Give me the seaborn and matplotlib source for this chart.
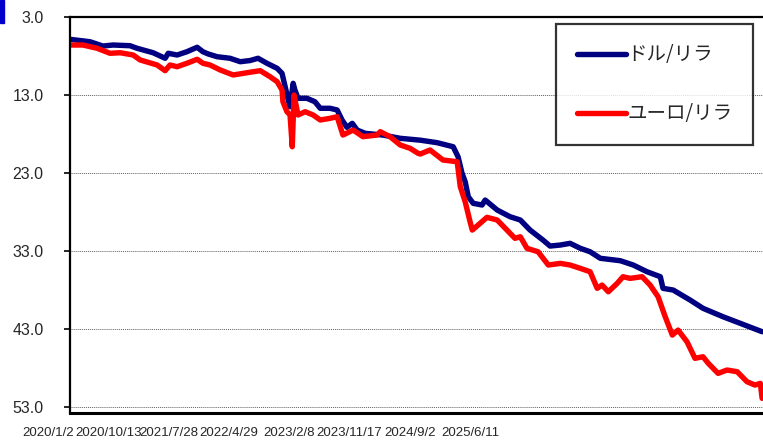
import numpy as np
import matplotlib
matplotlib.use("Agg")
import matplotlib.pyplot as plt
import seaborn as sns
from matplotlib import font_manager
from matplotlib.patches import Rectangle

sns.set_theme(style="white")
plt.rcParams['font.family'] = ['Noto Sans CJK JP', 'DejaVu Sans']

installed = {f.name for f in font_manager.fontManager.ttflist}
narrow = 'Liberation Sans Narrow' if 'Liberation Sans Narrow' in installed else 'Liberation Sans'
num_size = 11.5 if narrow == 'Liberation Sans Narrow' else 9.5

# trading-day index and rate (lira per unit)
usd_day = [0, 45, 74, 97, 135, 151, 187, 214, 221, 241, 263, 286, 299, 311, 331, 360, 383,
           405, 423, 443, 466, 477, 484, 491, 495, 502, 506, 513, 533, 551, 563, 585, 601,
           612, 623, 635, 646, 664, 704, 743, 788, 826, 862, 873, 882, 889, 896, 907, 927,
           934, 961, 990, 1013, 1035, 1064, 1080, 1103, 1125, 1148, 1170, 1193, 1238, 1267,
           1298, 1328, 1334, 1357, 1395, 1424, 1469, 1508, 1557]
usd_rate = [5.90, 6.21, 6.76, 6.63, 6.72, 7.05, 7.62, 8.33, 7.69, 7.91, 7.49, 6.92, 7.49, 7.78,
            8.13, 8.33, 8.77, 8.62, 8.33, 8.97, 9.62, 10.26, 11.97, 13.68, 14.54, 11.54, 12.40,
            13.46, 13.46, 13.90, 14.74, 14.74, 14.96, 16.24, 17.18, 16.67, 17.53, 17.95, 18.17,
            18.59, 18.83, 19.15, 19.67, 20.95, 23.08, 24.15, 26.08, 26.92, 27.14, 26.50, 27.78,
            28.64, 29.06, 30.35, 31.63, 32.40, 32.27, 32.05, 32.69, 33.13, 33.97, 34.28, 34.83,
            35.69, 36.33, 37.82, 38.04, 39.32, 40.38, 41.46, 42.31, 43.38]

eur_day = [0, 29, 61, 90, 113, 142, 158, 196, 214, 225, 241, 263, 286, 299, 315, 338, 367,
           405, 428, 450, 466, 477, 479, 488, 495, 500, 504, 513, 529, 547, 563, 585, 601,
           614, 637, 659, 691, 698, 720, 743, 765, 783, 788, 810, 839, 871, 878, 889, 900,
           905, 918, 938, 961, 983, 1001, 1013, 1028, 1053, 1076, 1103, 1125, 1148, 1170,
           1186, 1197, 1211, 1231, 1244, 1260, 1287, 1305, 1323, 1339, 1355, 1368, 1388,
           1406, 1424, 1436, 1458, 1478, 1501, 1523, 1541, 1553, 1557]
eur_rate = [6.63, 6.63, 7.05, 7.69, 7.62, 7.91, 8.55, 9.19, 9.92, 9.19, 9.41, 8.97, 8.46, 8.97,
            9.19, 9.83, 10.47, 10.12, 9.92, 10.69, 11.33, 12.40, 13.90, 15.18, 15.60, 19.67,
            13.04, 15.60, 15.18, 15.60, 16.24, 16.03, 15.82, 18.17, 17.53, 18.38, 18.17, 17.74,
            18.38, 19.45, 19.87, 20.51, 20.60, 20.09, 21.37, 21.59, 24.79, 26.72, 29.28, 30.35,
            29.71, 28.72, 29.06, 30.35, 31.41, 31.21, 32.69, 33.13, 34.83, 34.62, 34.83, 35.26,
            35.69, 37.82, 37.40, 38.26, 37.18, 36.33, 36.54, 36.33, 37.40, 38.90, 41.46, 43.81,
            43.17, 44.67, 46.79, 46.59, 47.44, 48.72, 48.29, 48.51, 49.79, 50.22, 50.00, 51.92]

date_labels = ["2020/1/2", "2020/10/13", "2021/7/28", "2022/4/29",
               "2023/2/8", "2023/11/17", "2024/9/2", "2025/6/11"]
y_ticks = [3.0, 13.0, 23.0, 33.0, 43.0, 53.0]

W, H = 763, 445
fig = plt.figure(figsize=(W / 100, H / 100), dpi=100)
ax_l, ax_r, ax_t, ax_b = 70, 763, 16.7, 413
ax = fig.add_axes([ax_l / W, 1 - ax_b / H, (ax_r - ax_l) / W, (ax_b - ax_t) / H])

sns.lineplot(x=usd_day, y=usd_rate, ax=ax, color="#000080", linewidth=3.9,
             label="ドル/リラ", solid_capstyle="round", solid_joinstyle="round")
sns.lineplot(x=eur_day, y=eur_rate, ax=ax, color="#ff0000", linewidth=3.9,
             label="ユーロ/リラ", solid_capstyle="round", solid_joinstyle="round")

ax.set_xlim(0, 1559)
ax.set_ylim(53.8, 3.0)
ax.set_yticks(y_ticks)
ax.set_yticklabels([f"{v:.1f}" for v in y_ticks], fontsize=11.5,
                   family=[narrow, 'DejaVu Sans'])
ax.set_xticks([])
ax.set_xlabel("")
ax.set_ylabel("")
ax.grid(False)
for v in y_ticks:
    ax.axhline(v, color="#606060", linewidth=0.7, linestyle=(0, (1, 1)), zorder=0)

ax.tick_params(axis="y", left=True, length=4, width=1.2, color="black", pad=15)
for side in ["left", "top", "bottom"]:
    ax.spines[side].set_color("black")
ax.spines["left"].set_linewidth(1.6)
ax.spines["top"].set_linewidth(1.6)
ax.spines["bottom"].set_linewidth(2.2)
ax.spines["right"].set_visible(False)

# date labels (category-style, offset as in the original)
for i, lab in enumerate(date_labels):
    px = 48 + 60.3 * i
    ax.text((px - ax_l) / (ax_r - ax_l), -(433 - ax_b) / (ax_b - ax_t), lab,
            transform=ax.transAxes, ha="center", va="center", fontsize=num_size,
            family=[narrow, 'DejaVu Sans'], clip_on=False)

leg = ax.legend(loc="upper right",
                bbox_to_anchor=((753 - ax_l) / (ax_r - ax_l), 1 - (24 - ax_t) / (ax_b - ax_t)),
                prop={'size': 14}, frameon=True, fancybox=False, edgecolor="black",
                handlelength=2.5, handletextpad=0.1, labelspacing=1.95,
                borderpad=1.05, borderaxespad=0)
leg.get_frame().set_linewidth(1.6)

fig.patches.append(Rectangle((0, 1 - 23 / H), 4 / W, 23 / H, transform=fig.transFigure,
                             color="#0000cc", zorder=5))

fig.savefig("out.png", dpi=100)
